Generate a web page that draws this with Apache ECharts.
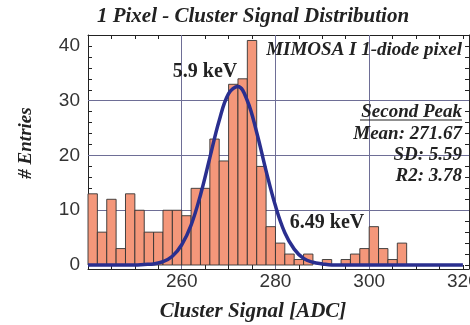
<!DOCTYPE html>
<html>
<head>
<meta charset="utf-8">
<script src="https://cdn.jsdelivr.net/npm/echarts@6/dist/echarts.min.js"></script>
<style>
  html, body { margin: 0; padding: 0; background: #fff; }
  #chart { width: 470px; height: 325px; }
</style>
</head>
<body>
<div id="chart"></div>
<script>
// histogram bins (left edge, ADC), 2 ADC wide
const binStarts = [240, 242, 244, 246, 248, 250, 252, 254, 256, 258, 260, 262, 264, 266, 268, 270, 272,
                   274, 276, 278, 280, 282, 284, 286, 288, 290, 292, 294, 296, 298, 300, 302, 304, 306];
const binCounts = [13, 6, 12, 3, 13, 10, 6, 6, 10, 10, 9, 14, 14, 23, 19, 33, 34,
                   41, 18, 7, 4, 2, 1, 2, 0, 1, 0, 1, 2, 3, 7, 3, 1, 4];
const binWidth = 2;

// fitted curve
const fitX = [240, 248, 250, 252, 254, 256, 258, 260, 262, 264, 266, 268, 270, 272, 274,
              276, 278, 280, 282, 284, 286, 288, 290, 292, 296, 320];
const fitY = [0, 0, 0, 0.1, 0.2, 0.6, 1.6, 3.7, 7.3, 12.8, 19.6, 26.4, 31.3, 32.6, 30.0,
              24.2, 17.2, 10.8, 5.9, 2.9, 1.2, 0.5, 0.2, 0, 0, 0];

const xLabels = [260, 280, 300, 320];
const yLabels = [0, 10, 20, 30, 40];
const yTicks = [0, 2, 4, 6, 8, 10, 12, 14, 16, 18, 20, 22, 24, 26, 28, 30, 32, 34, 36, 38, 40, 42];
const gridX = [260, 280, 300];
const gridY = [10, 20, 30];

const serif = '"Liberation Serif", "DejaVu Serif", serif';
const sans = '"Liberation Sans", Arial, sans-serif';
const ink = '#222';

let chart = echarts.init(document.getElementById('chart'));

const xCommon = {
    type: 'value', min: 240, max: 321.3, interval: 5,
    axisLine: { show: true, onZero: false, lineStyle: { color: ink, width: 1 } },
    axisTick: { show: true, inside: true, length: 4, lineStyle: { color: ink } },
    splitLine: { show: false }
};
const yCommon = {
    type: 'value', min: -0.73, max: 42,
    axisLine: { show: true, onZero: false, lineStyle: { color: ink, width: 1 } },
    axisTick: { show: true, inside: true, length: 4, customValues: yTicks, lineStyle: { color: ink } },
    splitLine: { show: false }
};

chart.setOption({
    animation: false,
    grid: { left: 88, top: 35, right: 1, bottom: 56, containLabel: false, outerBoundsMode: 'none' },
    xAxis: [
        Object.assign({}, xCommon, {
            position: 'bottom',
            axisLabel: {
                show: true, margin: 3, color: '#333', fontFamily: sans, fontSize: 19,
                formatter: function (v) { return xLabels.indexOf(v) >= 0 ? String(v) : ''; }
            }
        }),
        Object.assign({}, xCommon, { position: 'top', axisLabel: { show: false } })
    ],
    yAxis: [
        Object.assign({}, yCommon, {
            position: 'left',
            axisLabel: { show: true, margin: 8, color: '#333', fontFamily: sans, fontSize: 19, customValues: yLabels }
        }),
        Object.assign({}, yCommon, { position: 'right', axisLabel: { show: false } })
    ],
    series: [
        {
            type: 'custom',
            z: 2,
            encode: { x: 0, y: 1 },
            data: binStarts.map((b, i) => [b, binCounts[i]]),
            renderItem: function (params, api) {
                let x0 = api.value(0), h = api.value(1);
                if (!h) return null;
                let p0 = api.coord([x0, h]);
                let p1 = api.coord([x0 + binWidth, 0]);
                return {
                    type: 'rect',
                    shape: { x: p0[0], y: p0[1], width: p1[0] - p0[0], height: p1[1] - p0[1] },
                    style: { fill: '#f4977a', stroke: '#333', lineWidth: 0.9 }
                };
            },
            markLine: {
                z: 1,
                silent: true,
                symbol: 'none',
                label: { show: false },
                lineStyle: { color: '#6e6e96', width: 1, type: 'solid' },
                data: gridY.map(v => ({ yAxis: v })).concat(gridX.map(v => ({ xAxis: v })))
            }
        },
        {
            type: 'line',
            z: 3,
            smooth: 0.4,
            showSymbol: false,
            data: fitX.map((x, i) => [x, fitY[i]]),
            lineStyle: { color: '#2a2f8f', width: 3.5 }
        }
    ],
    graphic: [
        { type: 'text', x: 253, y: 17, style: { text: '1 Pixel - Cluster Signal Distribution', font: 'italic bold 21px ' + serif, fill: ink, align: 'center', verticalAlign: 'middle' } },
        { type: 'text', x: 253, y: 312, style: { text: 'Cluster Signal [ADC]', font: 'italic bold 21px ' + serif, fill: ink, align: 'center', verticalAlign: 'middle' } },
        { type: 'text', x: 26, y: 143, rotation: Math.PI / 2, style: { text: '# Entries', font: 'italic bold 19px ' + serif, fill: ink, align: 'center', verticalAlign: 'middle' } },
        { type: 'text', x: 462, y: 50, z: 10, style: { text: 'MIMOSA I 1-diode pixel', font: 'italic bold 19px ' + serif, fill: ink, align: 'right', verticalAlign: 'middle' } },
        { type: 'text', x: 205, y: 72, z: 10, style: { text: '5.9 keV', font: 'bold 20px ' + serif, fill: ink, align: 'center', verticalAlign: 'middle' } },
        { type: 'text', x: 327, y: 223, z: 10, style: { text: '6.49 keV', font: 'bold 20px ' + serif, fill: ink, align: 'center', verticalAlign: 'middle' } },
        { type: 'text', x: 462, y: 112, z: 10, style: { text: 'Second Peak', font: 'italic bold 19px ' + serif, fill: ink, align: 'right', verticalAlign: 'middle' } },
        { type: 'line', z: 10, shape: { x1: 360, y1: 120, x2: 462, y2: 120 }, style: { stroke: ink, lineWidth: 1.2 } },
        { type: 'text', x: 462, y: 134, z: 10, style: { text: 'Mean: 271.67', font: 'italic bold 19px ' + serif, fill: ink, align: 'right', verticalAlign: 'middle' } },
        { type: 'text', x: 462, y: 155, z: 10, style: { text: 'SD: 5.59', font: 'italic bold 19px ' + serif, fill: ink, align: 'right', verticalAlign: 'middle' } },
        { type: 'text', x: 462, y: 176, z: 10, style: { text: 'R2: 3.78', font: 'italic bold 19px ' + serif, fill: ink, align: 'right', verticalAlign: 'middle' } }
    ]
});
</script>
</body>
</html>
